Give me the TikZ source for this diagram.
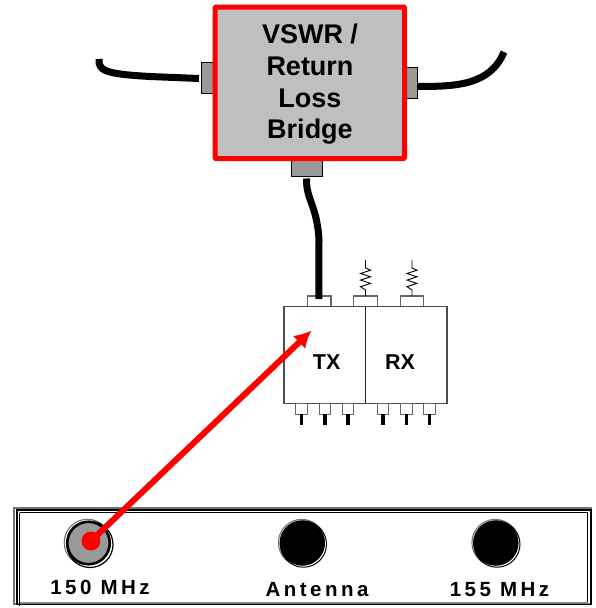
\documentclass[tikz,border=0pt]{standalone}
\usepackage{fontspec}
\usetikzlibrary{arrows.meta}
\setmainfont{Liberation Sans}
\newfontfamily\spacedfont[LetterSpace=17]{Liberation Sans}
\begin{document}
\begin{tikzpicture}[x=1pt,y=-1pt,
  every node/.style={inner sep=0pt,outer sep=0pt},
  bridge/.style={draw=red,line width=5pt,fill=black!25,rounded corners=0.8pt,minimum width=189.5pt,minimum height=151.5pt},
  port/.style={draw=black,line width=1pt,fill=black!40},
  radio/.style={draw=black!70,line width=1.4pt,fill=white},
  smallport/.style={draw=black!60,line width=1.3pt,fill=white},
  cable/.style={draw=black,line width=7pt},
  stub/.style={draw=black,line width=3.8pt},
  res/.style={draw=black,line width=0.9pt},
  label/.style={font=\bfseries\fontsize{21.5}{25}\selectfont},
  panellabel/.style={font=\spacedfont\bfseries\fontsize{20.5}{24}\selectfont,anchor=base},
  jackblack/.style={circle,fill=black,minimum width=45.5pt},
]
\useasboundingbox (0,0) rectangle (595,608);

% front panel
\node[draw=black!55,line width=1.8pt,fill=white,minimum width=577pt,minimum height=96pt] (panelouter) at (302.5,556) {};
\draw[black,line width=1.1pt] (17,510) rectangle (591,604.5);
\draw[black,line width=1.3pt] (19.5,512.5) -- (587.5,512.5) -- (587.5,602.5);
\draw[black!45,line width=1.3pt] (19.5,602.5) -- (587.5,602.5);
\draw[black,line width=1.3pt] (19.5,512.5) -- (19.5,606);

% jacks
\foreach \nm/\cx in {jb/302.5,jc/496}{
  \node[circle,draw=black!55,line width=1.1pt,fill=white,minimum width=46.5pt] at (\cx-0.8,542.6) {};
  \node[circle,draw=black,line width=1pt,fill=white,minimum width=46pt] at (\cx+1,544.2) {};
  \node[jackblack] (\nm) at (\cx-0.2,543) {};
}
\node[circle,draw=black!55,line width=1.1pt,fill=white,minimum width=46.5pt] at (87.5,542.5) {};
\node[circle,draw=black,line width=1.2pt,fill=white,minimum width=46pt] at (90,544.5) {};
\node[circle,draw=black,line width=2.6pt,fill=black!40,minimum width=42.5pt] (ja) at (88.5,543) {};

\node[panellabel] (la) at (100,594) {150 MHz};
\node[panellabel] (lb) at (317,596.5) {Antenna};
\node[panellabel] (lc) at (499.5,596.5) {155 MHz};

% bridge
\node[port,minimum width=12pt,minimum height=30.5pt] (pl) at (207,78) {};
\node[port,minimum width=11pt,minimum height=30.5pt] (pr) at (412,83) {};
\node[port,minimum width=31pt,minimum height=16pt] (pb) at (306.5,168.5) {};
\node[bridge] (bridge) at (309.75,82.75) {};
\node[font=\bfseries\fontsize{27}{31.7}\selectfont,align=center,anchor=center] (bt) at (310,84.5) {VSWR /\\Return\\Loss\\Bridge};

% radio
\node[smallport,minimum width=23.5pt,minimum height=11pt] (t1) at (319.3,301.5) {};
\node[smallport,minimum width=23.5pt,minimum height=11pt] (t2) at (365.5,301.5) {};
\node[smallport,minimum width=23.5pt,minimum height=11pt] (t3) at (412,301.5) {};
\node[radio,minimum width=163pt,minimum height=96.5pt] (radio) at (365.5,355) {};
\draw[black!85,line width=0.9pt] (t2.south) -- (radio.south);
\node[label] (tx) at (326.7,362) {TX};
\node[label] (rx) at (400,362) {RX};

\foreach \nm/\cx in {a/301.5,b/325,c/348,d/383,e/406.5,f/429.5}{
  \node[smallport,minimum width=11.5pt,minimum height=11pt] (\nm) at (\cx,408.7) {};
  \coordinate (\nm e) at (\cx,424.5);
  \draw[stub] (\nm.south) -- (\nm e);
}

% cables
\coordinate (lend) at (99,59);
\coordinate (rend) at (504,52);
\draw[cable] (lend) .. controls (98,71) and (106,74) .. (150,76.5) -- (199,78.5);
\draw[cable] (pr.east) ++(0,3.5) .. controls ++(40,0) and (490,85) .. (rend);
\draw[cable] (pb.south)++(0,2) .. controls (306,200) and (317,205) .. (319,240) -- (318.8,299);

% resistors
\foreach \nd in {t2,t3}{
  \draw[res] (\nd.north) -- ++(0,-6) -- ++(-5,-3.3) -- ++(10,-3.3) -- ++(-10,-3.3) -- ++(10,-3.3) -- ++(-10,-3.3) -- ++(10,-3.3) -- ++(-5,-2.2) -- ++(0,-8);
}

% red arrow
\coordinate (target) at (311.5,330.5);
\draw[red,line width=6pt,-{Latex[length=17pt,width=18pt]}] (ja.center)++(2.5,-2) -- (target);
\node[circle,fill=red,minimum width=19pt] (dot) at (91,541) {};
\end{tikzpicture}
\end{document}
